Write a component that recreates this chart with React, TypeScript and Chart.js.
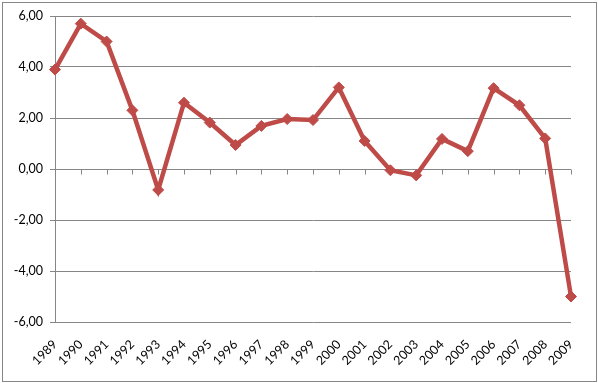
import React, { useEffect, useRef } from "react";
import { Chart, registerables } from "chart.js";

Chart.register(...registerables);

const years = ["1989","1990","1991","1992","1993","1994","1995","1996","1997","1998","1999","2000","2001","2002","2003","2004","2005","2006","2007","2008","2009"];
const values = [3.9, 5.7, 5.0, 2.3, -0.82, 2.6, 1.82, 0.94, 1.69, 1.96, 1.92, 3.2, 1.1, -0.05, -0.25, 1.18, 0.7, 3.17, 2.5, 1.2, -5.0];
const yTicks = [-6, -4, -2, 0, 2, 4, 6];

const GRID = "#868686";
const RED = "#BE4B48";
const FONT = "Lato, 'Liberation Sans', sans-serif";

const zeroAxisPlugin = {
  id: "zeroAxis",
  beforeDatasetsDraw(chart: any) {
    const x = chart.scales.x;
    const y = chart.scales.y;
    const y0 = Math.round(y.getPixelForValue(0)) + 0.5;
    const ctx = chart.ctx;
    ctx.save();
    ctx.strokeStyle = GRID;
    ctx.lineWidth = 1;
    ctx.beginPath();
    ctx.moveTo(chart.chartArea.left, y0);
    ctx.lineTo(chart.chartArea.right, y0);
    for (let i = 0; i < years.length; i++) {
      const px = Math.round(x.getPixelForValue(i)) + 0.5;
      ctx.moveTo(px, y0);
      ctx.lineTo(px, y0 + 5);
    }
    ctx.stroke();
    ctx.restore();
  },
};

export default function App() {
  const ref = useRef<HTMLCanvasElement>(null);
  useEffect(() => {
    document.body.style.margin = "0";
    const chart = new Chart(ref.current!, {
      type: "line",
      data: {
        labels: years,
        datasets: [
          {
            data: values,
            borderColor: RED,
            backgroundColor: RED,
            borderWidth: 4.5,
            pointStyle: "rectRot",
            pointRadius: 5.5,
            pointBackgroundColor: RED,
            pointBorderColor: RED,
            pointBorderWidth: 1,
            tension: 0,
          },
        ],
      },
      options: {
        animation: false,
        responsive: false,
        maintainAspectRatio: false,
        layout: { padding: { left: 0, top: 16, right: 27, bottom: 0 } },
        plugins: { legend: { display: false }, tooltip: { enabled: false } },
        scales: {
          x: {
            offset: false,
            grid: { display: false },
            border: { display: false },
            ticks: {
              autoSkip: false,
              maxRotation: 45,
              minRotation: 45,
              color: "#000",
              font: { family: FONT, size: 12.5 },
              padding: 7,
            },
            afterFit: (s: any) => { s.height = 61; },
          },
          y: {
            min: -6,
            max: 6,
            afterBuildTicks: (s: any) => { s.ticks = yTicks.map((v) => ({ value: v })); },
            grid: { color: GRID, tickLength: 5, drawTicks: true },
            border: { color: GRID },
            ticks: {
              color: "#000",
              font: { family: FONT, size: 12.5 },
              padding: 7,
              callback: (v: any) => Number(v).toFixed(2).replace(".", ","),
            },
            afterFit: (s: any) => { s.width = 55; },
          },
        },
      },
      plugins: [zeroAxisPlugin],
    });
    return () => chart.destroy();
  }, []);
  return (
    <div style={{ position: "fixed", left: 0, top: 0, width: 598, height: 383, background: "#fff" }}>
      <canvas ref={ref} width={598} height={383} style={{ position: "absolute", left: 0, top: 0 }} />
      <div style={{ position: "absolute", left: 2, top: 2, width: 593, height: 378, border: "1px solid #868686", pointerEvents: "none" }} />
    </div>
  );
}
